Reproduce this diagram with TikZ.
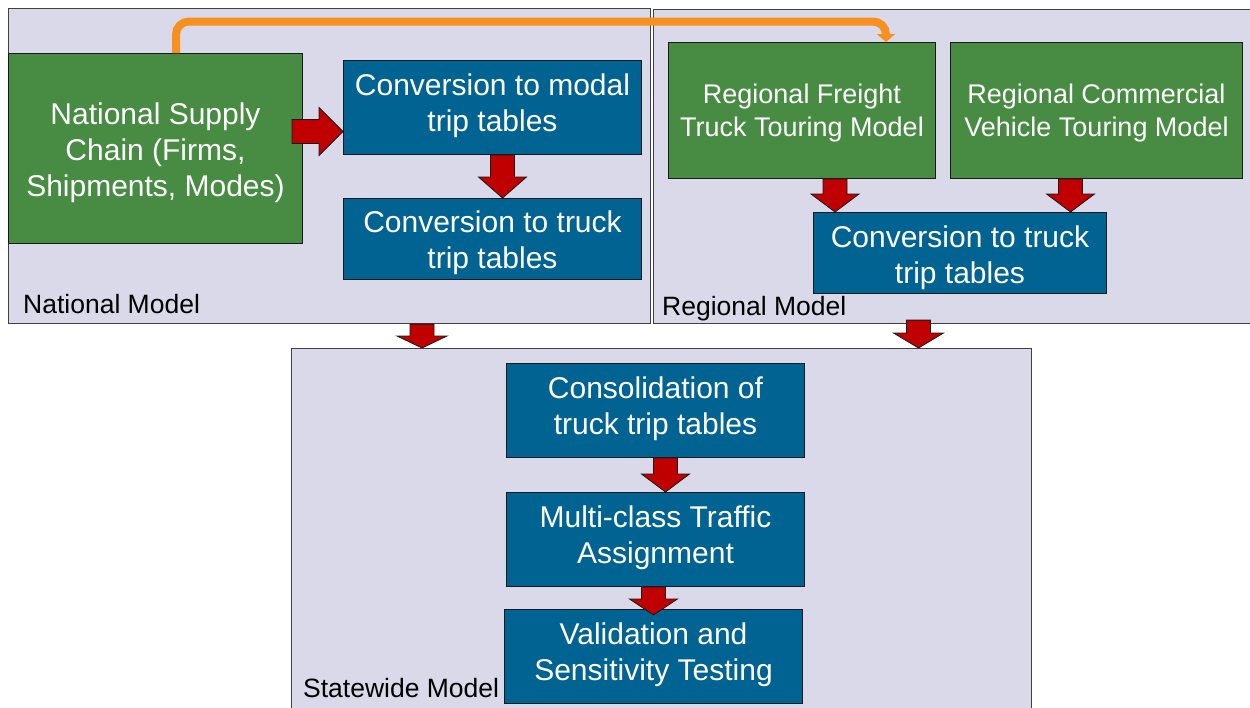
\documentclass[tikz,border=0pt]{standalone}
\usepackage{fontspec}
\setmainfont{Liberation Sans}
\usetikzlibrary{calc,arrows.meta}
\definecolor{lav}{HTML}{D9D9E9}
\definecolor{grn}{HTML}{478C42}
\definecolor{blu}{HTML}{006392}
\definecolor{redarr}{HTML}{C00000}
\definecolor{orng}{HTML}{F7901E}
\definecolor{contline}{HTML}{404040}
\definecolor{boxline}{HTML}{1A1A1A}
% down block arrow: #1 start point, #2 tip point, #3 head length, #4 head half width
\newcommand{\blkdown}[4]{\draw[blk] let \p1=(#1), \p2=(#2) in
 ({\x1-12pt},\y1) -- ({\x1+12pt},\y1) -- ({\x1+12pt},{\y2+#3}) -- ({\x1+#4},{\y2+#3}) -- (\x1,\y2) -- ({\x1-#4},{\y2+#3}) -- ({\x1-12pt},{\y2+#3}) -- cycle;}
\begin{document}
\begin{tikzpicture}[x=1pt,y=-1pt,
 container/.style={draw=contline, fill=lav, line width=1.1pt, anchor=north west, inner sep=0pt},
 contlabel/.style={anchor=base west, inner sep=0pt, text=black, font=\fontsize{26.5}{30}\selectfont},
 gbox/.style={draw=boxline, fill=grn, line width=1pt, anchor=north west, inner sep=0pt},
 bbox/.style={draw=boxline, fill=blu, line width=1pt, anchor=north west, inner sep=0pt},
 btxt/.style={inner sep=0pt, text=white, align=center, font=\fontsize{30}{36}\selectfont},
 gtxt/.style={inner sep=0pt, text=white, align=center, font=\fontsize{27}{33}\selectfont},
 blk/.style={draw=boxline, fill=redarr, line width=0.8pt},
 orarrow/.style={draw=orng, line width=8pt, rounded corners=13pt, -{Triangle[width=18pt,length=8pt]}}
]
\useasboundingbox (0,0) rectangle (1250,707);

% containers
\node[container, minimum width=642pt, minimum height=315pt] (natc) at (8,8) {};
\node[container, minimum width=600pt, minimum height=314pt] (regc) at (653,9) {};
\node[container, minimum width=740pt, minimum height=365pt] (stac) at (291,348) {};

\node[contlabel] (natl) at (23,313) {National Model};
\node[contlabel] (regl) at (662,315) {Regional Model};
\node[contlabel] (stal) at (303,697) {Statewide Model};

% boxes
\node[gbox, minimum width=294pt, minimum height=190pt] (nsc) at (8,53) {};
\node[btxt] (nsct) at ($(nsc.center)+(0,4)$) {National Supply\\Chain (Firms,\\Shipments, Modes)};
\node[bbox, minimum width=298pt, minimum height=94pt] (modal) at (343,60) {};
\node[btxt] (modalt) at ($(modal.center)+(0,-2)$) {Conversion to modal\\trip tables};
\node[bbox, minimum width=298pt, minimum height=81pt] (ntruck) at (343,198) {};
\node[btxt] (ntruckt) at ($(ntruck.center)+(0,4)$) {Conversion to truck\\trip tables};
\node[gbox, minimum width=267pt, minimum height=136pt] (rft) at (668,42) {};
\node[gtxt] (rftt) at ($(rft.center)+(0,3)$) {Regional Freight\\Truck Touring Model};
\node[gbox, minimum width=292pt, minimum height=136pt] (rcv) at (950,42) {};
\node[gtxt] (rcvt) at ($(rcv.center)+(0,3)$) {Regional Commercial\\Vehicle Touring Model};
\node[bbox, minimum width=293pt, minimum height=81pt] (rtruck) at (813,212) {};
\node[btxt] (rtruckt) at ($(rtruck.center)+(0,5)$) {Conversion to truck\\trip tables};
\node[bbox, minimum width=298pt, minimum height=94pt] (cons) at (506,363) {};
\node[btxt] (const) at ($(cons.center)+(0,-2)$) {Consolidation of\\truck trip tables};
\node[bbox, minimum width=298pt, minimum height=94pt] (multi) at (506,492) {};
\node[btxt] (multit) at ($(multi.center)+(0,-2)$) {Multi-class Traffic\\Assignment};
\node[bbox, minimum width=298pt, minimum height=94pt] (valid) at (504,609) {};
\node[btxt] (validt) at ($(valid.center)+(0,-2)$) {Validation and\\Sensitivity Testing};

% orange connector
\coordinate (otop) at (886,21.5);
\draw[orarrow] ($(nsc.north west)+(168,0)$) |- (otop) -- (otop |- rft.north);

% red block arrows
\draw[blk] let \p1=($(nsc.east)+(-11,-17)$), \p2=(modal.west) in
 (\x1,{\y1+12pt}) -- ({\x2-24pt},{\y1+12pt}) -- ({\x2-24pt},{\y1+24pt}) -- (\x2,\y1)
 -- ({\x2-24pt},{\y1-24pt}) -- ({\x2-24pt},{\y1-12pt}) -- (\x1,{\y1-12pt}) -- cycle;
\blkdown{$(modal.south)+(10,0)$}{ntruck.north}{21pt}{24pt}
\blkdown{$(rft.south)+(33,0)$}{rtruck.north}{18pt}{24pt}
\blkdown{$(rcv.south)+(-26,0)$}{rtruck.north}{18pt}{24pt}
\blkdown{$(natc.south west)+(414,0)$}{stac.north}{12pt}{25pt}
\blkdown{$(regc.south west)+(265.5,-4)$}{stac.north}{15pt}{25pt}
\blkdown{$(cons.south)+(10,0)$}{multi.north}{18pt}{24pt}
\blkdown{$(multi.south)+(-2,0)$}{$(valid.north)+(0,6)$}{16pt}{24pt}
\end{tikzpicture}
\end{document}
